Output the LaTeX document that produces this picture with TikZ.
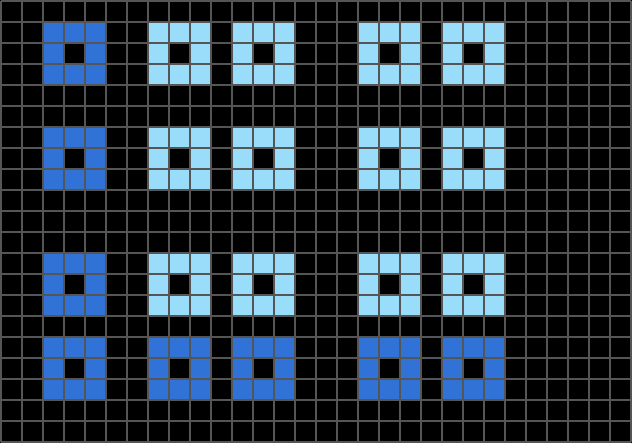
\documentclass[tikz,border=0pt]{standalone}
\usepackage{xcolor}
\usepackage{tikz}
\definecolor{darkblue}{HTML}{3172D6}
\definecolor{lightblue}{HTML}{99DDFA}
\definecolor{gridgray}{HTML}{555555}
\begin{document}
\begin{tikzpicture}[x=0.5cm,y=-0.5cm]
	\tikzstyle{gridline}=[draw=gridgray,line width=0.476mm]
	\useasboundingbox (-0.0476,-0.0476) rectangle (30.0476,21.0476);
	\fill[black] (-0.0476,-0.0476) rectangle (30.0476,21.0476);
	% light and dark rings
	\foreach \r in {1,6,12}{
		\fill[darkblue] (2,\r) rectangle +(3,3);
		\foreach \c in {7,11,17,21}
			\fill[lightblue] (\c,\r) rectangle +(3,3);
	}
	\foreach \c in {2,7,11,17,21}
		\fill[darkblue] (\c,16) rectangle +(3,3);
	% holes
	\foreach \r in {2,7,13,17}
		\foreach \c in {3,8,12,18,22}
			\fill[black] (\c,\r) rectangle +(1,1);
	% grid
	\foreach \c in {0,...,30}
		\path[gridline] (\c,0) -- (\c,21);
	\foreach \r in {0,...,21}
		\path[gridline] (0,\r) -- (30,\r);
\end{tikzpicture}
\end{document}
